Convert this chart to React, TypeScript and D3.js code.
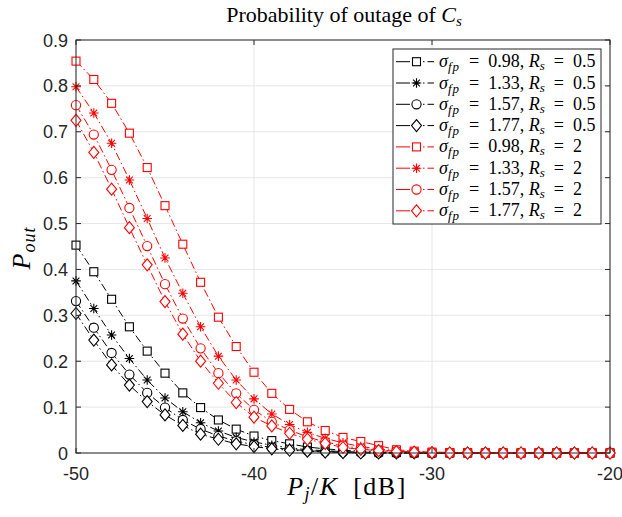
import React from "react";
import * as d3 from "d3";

const xValues = [-50, -49, -48, -47, -46, -45, -44, -43, -42, -41, -40, -39, -38, -37, -36, -35, -34, -33, -32, -31, -30, -29, -28, -27, -26, -25, -24, -23, -22, -21, -20];

const blackSquare = [0.453, 0.395, 0.335, 0.275, 0.222, 0.174, 0.131, 0.099, 0.072, 0.052, 0.037, 0.027, 0.020, 0.013, 0.009, 0.006, 0.004, 0.002, 0.001, 0, 0, 0, 0, 0, 0, 0, 0, 0, 0, 0, 0];
const blackStar = [0.375, 0.315, 0.257, 0.206, 0.159, 0.120, 0.090, 0.066, 0.048, 0.034, 0.024, 0.017, 0.011, 0.007, 0.005, 0.003, 0.002, 0.001, 0, 0, 0, 0, 0, 0, 0, 0, 0, 0, 0, 0, 0];
const blackCircle = [0.331, 0.273, 0.218, 0.171, 0.131, 0.099, 0.072, 0.052, 0.037, 0.026, 0.018, 0.012, 0.008, 0.005, 0.003, 0.002, 0.001, 0, 0, 0, 0, 0, 0, 0, 0, 0, 0, 0, 0, 0, 0];
const blackDiamond = [0.304, 0.246, 0.192, 0.148, 0.112, 0.083, 0.060, 0.041, 0.030, 0.020, 0.014, 0.009, 0.006, 0.004, 0.002, 0.001, 0, 0, 0, 0, 0, 0, 0, 0, 0, 0, 0, 0, 0, 0, 0];
const redSquare = [0.854, 0.814, 0.762, 0.697, 0.622, 0.539, 0.455, 0.372, 0.296, 0.232, 0.176, 0.130, 0.095, 0.068, 0.049, 0.034, 0.025, 0.016, 0.007, 0.004, 0.002, 0.001, 0.001, 0, 0, 0, 0, 0, 0, 0, 0];
const redStar = [0.798, 0.741, 0.675, 0.595, 0.511, 0.425, 0.348, 0.275, 0.211, 0.159, 0.118, 0.085, 0.062, 0.045, 0.032, 0.022, 0.014, 0.009, 0.005, 0.003, 0.002, 0.001, 0, 0, 0, 0, 0, 0, 0, 0, 0];
const redCircle = [0.758, 0.694, 0.617, 0.534, 0.451, 0.368, 0.293, 0.228, 0.174, 0.130, 0.094, 0.068, 0.050, 0.035, 0.024, 0.016, 0.010, 0.006, 0.004, 0.002, 0.001, 0, 0, 0, 0, 0, 0, 0, 0, 0, 0];
const redDiamond = [0.725, 0.655, 0.575, 0.491, 0.410, 0.330, 0.259, 0.200, 0.152, 0.110, 0.078, 0.059, 0.043, 0.030, 0.021, 0.012, 0.008, 0.005, 0.003, 0.002, 0.001, 0, 0, 0, 0, 0, 0, 0, 0, 0, 0];

const sigmaLabels = ["0.98", "1.33", "1.57", "1.77", "0.98", "1.33", "1.57", "1.77"];
const rsLabels = ["0.5", "0.5", "0.5", "0.5", "2", "2", "2", "2"];
const markerTypes = ["square", "star", "circle", "diamond", "square", "star", "circle", "diamond"];
const seriesColors = ["#000000", "#000000", "#000000", "#000000", "#ff0000", "#ff0000", "#ff0000", "#ff0000"];
const seriesValues = [blackSquare, blackStar, blackCircle, blackDiamond, redSquare, redStar, redCircle, redDiamond];

const xTicks = [-50, -40, -30, -20];
const yTicks = [0, 0.1, 0.2, 0.3, 0.4, 0.5, 0.6, 0.7, 0.8, 0.9];
const yTickLabels = ["0", "0.1", "0.2", "0.3", "0.4", "0.5", "0.6", "0.7", "0.8", "0.9"];

const L = 76, R = 610, T = 40, B = 453;
const AX = "#262626";
const DASH = "8,3,1.5,3";
const LATEX = "'Liberation Serif', 'Times New Roman', serif";
const SANS = "'Liberation Sans', Arial, Helvetica, sans-serif";
const EQ = "\u2002=\u2002";

function Marker({ type, x, y, color }: { type: string; x: number; y: number; color: string }) {
  const sw = 1.1;
  if (type === "square") {
    return <rect x={x - 4} y={y - 4} width={8} height={8} fill="white" stroke={color} strokeWidth={sw} />;
  }
  if (type === "circle") {
    return <circle cx={x} cy={y} r={4.6} fill="white" stroke={color} strokeWidth={sw} />;
  }
  if (type === "diamond") {
    const p = d3.path();
    p.moveTo(x, y - 6);
    p.lineTo(x + 5, y);
    p.lineTo(x, y + 6);
    p.lineTo(x - 5, y);
    p.closePath();
    return <path d={p.toString()} fill="white" stroke={color} strokeWidth={sw} />;
  }
  const r = 4.8, d = 3.4;
  const p = d3.path();
  p.moveTo(x, y - r); p.lineTo(x, y + r);
  p.moveTo(x - r, y); p.lineTo(x + r, y);
  p.moveTo(x - d, y - d); p.lineTo(x + d, y + d);
  p.moveTo(x - d, y + d); p.lineTo(x + d, y - d);
  return <path d={p.toString()} fill="none" stroke={color} strokeWidth={sw} />;
}

export default function App() {
  const x = d3.scaleLinear().domain([-50, -20]).range([L, R]);
  const y = d3.scaleLinear().domain([0, 0.9]).range([B, T]);
  const line = d3.line<number>().x((_, i) => x(xValues[i])).y((v) => y(v));

  const legX = 393, legY = 49, legW = 208, legH = 175;
  const rowY0 = 61.7, rowStep = 21.3;

  return (
    <svg width={622} height={517} style={{ position: "absolute", left: 0, top: 0, background: "white" }}>
      <rect x={0} y={0} width={622} height={517} fill="white" />
      {/* grid */}
      {xTicks.map((t) => (
        <line key={"gx" + t} x1={x(t)} x2={x(t)} y1={T} y2={B} stroke="#e6e6e6" strokeWidth={1} />
      ))}
      {yTicks.map((t) => (
        <line key={"gy" + t} x1={L} x2={R} y1={y(t)} y2={y(t)} stroke="#e6e6e6" strokeWidth={1} />
      ))}
      {/* series */}
      {seriesValues.map((vals, si) => (
        <g key={"s" + si}>
          <path d={line(vals) || ""} fill="none" stroke={seriesColors[si]} strokeWidth={1} strokeDasharray={DASH} />
          {vals.map((v, i) => (
            <Marker key={i} type={markerTypes[si]} x={x(xValues[i])} y={y(v)} color={seriesColors[si]} />
          ))}
        </g>
      ))}
      {/* axes box */}
      <rect x={L} y={T} width={R - L} height={B - T} fill="none" stroke={AX} strokeWidth={1} />
      {xTicks.map((t) => (
        <g key={"tx" + t}>
          <line x1={x(t)} x2={x(t)} y1={B} y2={B - 5} stroke={AX} />
          <line x1={x(t)} x2={x(t)} y1={T} y2={T + 5} stroke={AX} />
          <text x={x(t)} y={480} textAnchor="middle" fontFamily={SANS} fontSize={18} fill={AX}>{t}</text>
        </g>
      ))}
      {yTicks.map((t, i) => (
        <g key={"ty" + t}>
          <line x1={L} x2={L + 5} y1={y(t)} y2={y(t)} stroke={AX} />
          <line x1={R} x2={R - 5} y1={y(t)} y2={y(t)} stroke={AX} />
          <text x={68} y={y(t) + 6.5} textAnchor="end" fontFamily={SANS} fontSize={18} fill={AX}>{yTickLabels[i]}</text>
        </g>
      ))}
      {/* title */}
      <text x={344} y={22} textAnchor="middle" fontFamily={LATEX} fontSize={22} fill="#000">
        Probability of outage of <tspan fontStyle="italic">C</tspan>
        <tspan fontStyle="italic" fontSize={15} dy={4}>s</tspan>
      </text>
      {/* x label */}
      <text x={347} y={495} textAnchor="middle" fontFamily={LATEX} fontSize={26} letterSpacing={1.5} fill="#000">
        <tspan fontStyle="italic">P</tspan>
        <tspan fontStyle="italic" fontSize={18} dy={5}>j</tspan>
        <tspan dy={-5}>/</tspan>
        <tspan fontStyle="italic">K</tspan>
        <tspan>{"\u2002[dB]"}</tspan>
      </text>
      {/* y label */}
      <text transform={`translate(30,248) rotate(-90)`} textAnchor="middle" fontFamily={LATEX} fontSize={26} letterSpacing={1} fill="#000">
        <tspan fontStyle="italic">P</tspan>
        <tspan fontStyle="italic" fontSize={18} dy={5}>out</tspan>
      </text>
      {/* legend */}
      <rect x={legX} y={legY} width={legW} height={legH} fill="white" stroke={AX} strokeWidth={1} />
      {sigmaLabels.map((s, i) => {
        const ry = rowY0 + i * rowStep;
        return (
          <g key={"leg" + i}>
            <line x1={396} x2={434} y1={ry} y2={ry} stroke={seriesColors[i]} strokeWidth={1} strokeDasharray="14,3,7,3,1.5,3" />
            <Marker type={markerTypes[i]} x={416.5} y={ry} color={seriesColors[i]} />
            <text x={439} y={ry + 5.5} fontFamily={LATEX} fontSize={18} fill="#000">
              <tspan fontStyle="italic">σ</tspan>
              <tspan fontStyle="italic" fontSize={13} dy={4} letterSpacing={1}>fp</tspan>
              <tspan dy={-4}>{EQ + s + ", "}</tspan>
              <tspan fontStyle="italic">R</tspan>
              <tspan fontStyle="italic" fontSize={13} dy={3}>s</tspan>
              <tspan dy={-3}>{EQ + rsLabels[i]}</tspan>
            </text>
          </g>
        );
      })}
    </svg>
  );
}
